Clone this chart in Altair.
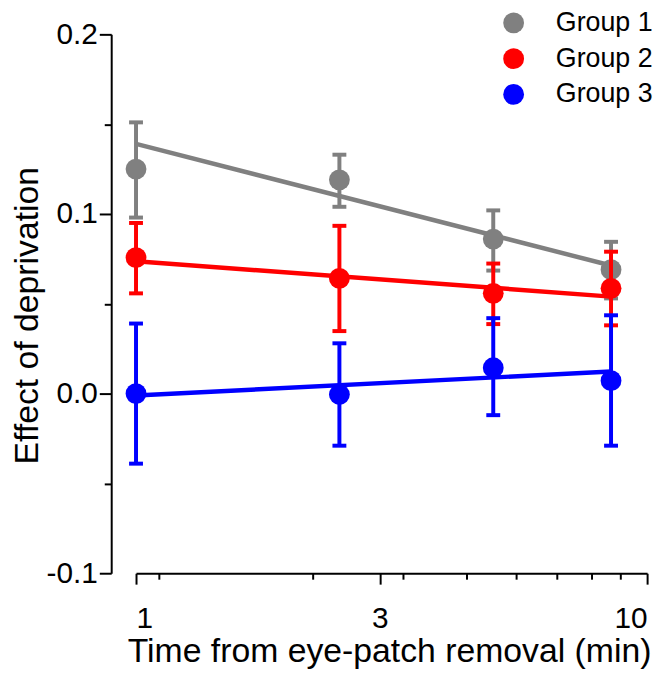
import altair as alt
import pandas as pd

groups = ["Group 1", "Group 2", "Group 3"]
colors = ["#808080", "#FF0000", "#0000FF"]
times = [1, 2.5, 5, 8.5]

g1_mean = [0.125, 0.119, 0.086, 0.069]
g1_upper = [0.151, 0.133, 0.102, 0.0845]
g1_lower = [0.098, 0.104, 0.0685, 0.053]

g2_mean = [0.0757, 0.0641, 0.0558, 0.0586]
g2_upper = [0.095, 0.0934, 0.0724, 0.079]
g2_lower = [0.0558, 0.0348, 0.0387, 0.038]

g3_mean = [0.0, -0.0005, 0.0144, 0.0072]
g3_upper = [0.039, 0.028, 0.042, 0.0436]
g3_lower = [-0.039, -0.029, -0.012, -0.029]

fit_times = [1, 8.5]
g1_fit = [0.139, 0.0713]
g2_fit = [0.0737, 0.054]
g3_fit = [-0.0011, 0.0123]

x_major = [1, 3, 10]
x_minor = [1.11, 2.22, 3.33, 4.44, 5.55, 6.66, 7.77, 8.88]
y_major = [-0.1, 0.0, 0.1, 0.2]
y_minor = [-0.05, 0.05, 0.15]

means = [g1_mean, g2_mean, g3_mean]
uppers = [g1_upper, g2_upper, g3_upper]
lowers = [g1_lower, g2_lower, g3_lower]
fits = [g1_fit, g2_fit, g3_fit]

rows = []
for gi, g in enumerate(groups):
    for i, t in enumerate(times):
        rows.append({"group": g, "time": t, "mean": means[gi][i],
                     "upper": uppers[gi][i], "lower": lowers[gi][i]})
pts = pd.DataFrame(rows)

frows = []
for gi, g in enumerate(groups):
    for i, t in enumerate(fit_times):
        frows.append({"group": g, "time": t, "fit": fits[gi][i]})
fitdf = pd.DataFrame(frows)

FONT = "Liberation Sans"
xs = alt.Scale(type="log", domain=[1, 10], nice=False)
ys = alt.Scale(domain=[-0.1, 0.2], nice=False, zero=False)
cs = alt.Scale(domain=groups, range=colors)

x_major_axis = alt.Axis(values=x_major, format="d", tickSize=11, labelPadding=20,
                        labelFontSize=30, labelFont=FONT, labelColor="black",
                        title="Time from eye-patch removal (min)", titleFontSize=34,
                        titleFont=FONT, titleFontWeight="normal", titleColor="black",
                        titleBaseline="alphabetic", titleY=89, titleX=255,
                        domainWidth=2, domainColor="black", tickWidth=2, tickColor="black",
                        grid=False, orient="bottom")
y_major_axis = alt.Axis(values=y_major,
                        labelExpr="datum.value < 0 ? '-' + format(-datum.value, '.1f') : format(datum.value, '.1f')",
                        tickSize=12, labelPadding=2, labelFontSize=30, labelFont=FONT,
                        labelColor="black", offset=25,
                        title="Effect of deprivation", titleFontSize=34, titleFont=FONT,
                        titleFontWeight="normal", titleColor="black", titleAngle=270,
                        titleBaseline="alphabetic", titleX=-74, titleY=283,
                        domainWidth=2, domainColor="black", tickWidth=2, tickColor="black",
                        grid=False, orient="left")
x_minor_axis = alt.Axis(values=x_minor, labels=False, domain=False, tickSize=6,
                        tickWidth=2, tickColor="black", grid=False, title=None, orient="bottom")
y_minor_axis = alt.Axis(values=y_minor, labels=False, domain=False, tickSize=7,
                        tickWidth=2, tickColor="black", grid=False, title=None,
                        orient="left", offset=25)

legend = alt.Legend(title=None, orient="none", legendX=367, legendY=-25,
                    symbolType="circle", symbolSize=440, symbolStrokeWidth=0,
                    labelFontSize=27, labelFont=FONT, labelColor="black",
                    labelOffset=29, rowPadding=8)

layers = []
for gi, g in enumerate(groups):
    col = colors[gi]
    sel = alt.datum.group == g
    first = gi == 0
    rules = alt.Chart(pts).transform_filter(sel).mark_rule(strokeWidth=4, color=col).encode(
        x=alt.X("time:Q", scale=xs, axis=x_major_axis if first else None),
        y=alt.Y("lower:Q", scale=ys, axis=y_major_axis if first else None),
        y2="upper:Q",
    )
    cap_hi = alt.Chart(pts).transform_filter(sel).mark_tick(
        orient="horizontal", size=14, thickness=4, opacity=1, color=col).encode(
        x=alt.X("time:Q", scale=xs, axis=None),
        y=alt.Y("upper:Q", scale=ys, axis=None),
    )
    cap_lo = alt.Chart(pts).transform_filter(sel).mark_tick(
        orient="horizontal", size=14, thickness=4, opacity=1, color=col).encode(
        x=alt.X("time:Q", scale=xs, axis=None),
        y=alt.Y("lower:Q", scale=ys, axis=None),
    )
    line = alt.Chart(fitdf).transform_filter(sel).mark_line(strokeWidth=4.5, color=col).encode(
        x=alt.X("time:Q", scale=xs, axis=x_minor_axis if first else None),
        y=alt.Y("fit:Q", scale=ys, axis=y_minor_axis if first else None),
    )
    points = alt.Chart(pts).transform_filter(sel).mark_point(
        filled=True, size=440, opacity=1).encode(
        x=alt.X("time:Q", scale=xs, axis=None),
        y=alt.Y("mean:Q", scale=ys, axis=None),
        color=alt.Color("group:N", scale=cs, legend=legend),
    )
    layers += [rules, cap_hi, cap_lo, line, points]

chart = alt.layer(*layers).resolve_axis(
    x="independent", y="independent"
).properties(
    width=515, height=543,
    autosize=alt.AutoSizeParams(type="none"),
    padding={"left": 129, "top": 24, "right": 14, "bottom": 100},
).configure_view(stroke=None)

chart.save("out.html", embed_options={"renderer": "svg", "actions": False})
